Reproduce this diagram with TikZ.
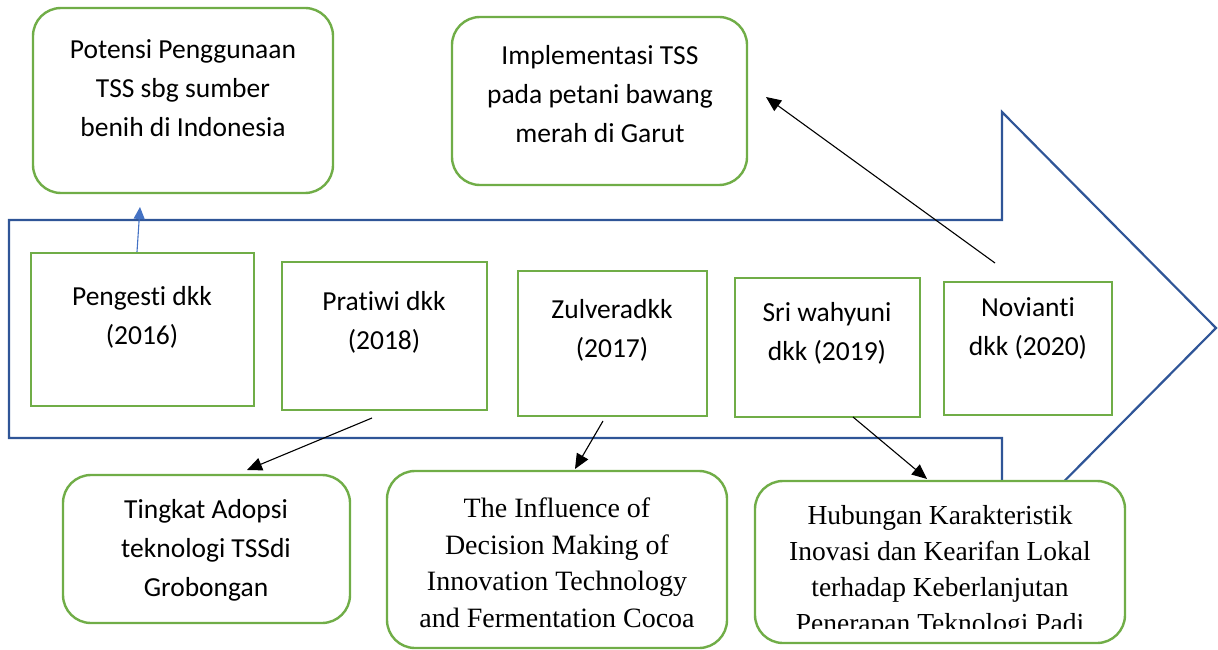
\documentclass[tikz,border=0pt]{standalone}
\usepackage{fontspec}
\setmainfont{Carlito}[Ligatures=NoCommon]
\newfontfamily\tnr{Liberation Serif}
\usetikzlibrary{arrows.meta}
\definecolor{gr}{RGB}{112,173,71}
\definecolor{bl}{RGB}{47,85,151}
\definecolor{lb}{RGB}{68,114,196}
\tikzset{
  gbox/.style={draw=gr, line width=2.4pt, fill=white, inner sep=0pt},
  rbox/.style={gbox, rounded corners=28pt},
  ctext/.style={align=center, font=\fontsize{27.5}{39}\selectfont, inner sep=0pt},
  ttext/.style={align=center, font=\tnr\fontsize{28}{36.5}\selectfont, inner sep=0pt},
  conn/.style={line width=1.1pt, -{Triangle[length=15pt,width=13pt]}},
  bconn/.style={lb, line width=1.1pt, -{Triangle[length=12pt,width=11pt]}},
  bigarrow/.style={draw=bl, line width=2.2pt, line join=miter}
}
\begin{document}
\begin{tikzpicture}[x=1pt,y=-1pt]
\useasboundingbox (0,0) rectangle (1218,650);
% big timeline arrow
\draw[bigarrow] (9,220) -- (1002,220) -- (1002,112) -- (1216,328) -- (1002,544) -- (1002,438) -- (9,438) -- cycle;

% top boxes
\node[rbox, minimum width=300pt, minimum height=185pt] (pot) at (183,100.5) {};
\node[ctext] (potT) at (183,88) {Potensi Penggunaan\\TSS sbg sumber\\benih di Indonesia};
\node[rbox, minimum width=295pt, minimum height=168pt] (imp) at (599.5,101) {};
\node[ctext] (impT) at (600,94) {Implementasi TSS\\pada petani bawang\\merah di Garut};

% inner boxes
\node[gbox, minimum width=223pt, minimum height=153pt] (peng) at (142.5,329.5) {};
\node[ctext] (pengT) at (142,317.5) {Pengesti dkk\\(2016)};
\node[gbox, minimum width=205pt, minimum height=148pt] (pra) at (384.5,336) {};
\node[ctext] (praT) at (384,322.5) {Pratiwi dkk\\(2018)};
\node[gbox, minimum width=189pt, minimum height=145pt] (zul) at (612.5,343.5) {};
\node[ctext] (zulT) at (612,330) {Zulveradkk\\(2017)};
\node[gbox, minimum width=185pt, minimum height=139pt] (sri) at (827.5,347.5) {};
\node[ctext] (sriT) at (827,333.5) {Sri wahyuni\\dkk (2019)};
\node[gbox, minimum width=168pt, minimum height=133pt] (nov) at (1028,348.5) {};
\node[ctext] (novT) at (1028,328.5) {Novianti\\dkk (2020)};

% bottom boxes
\node[rbox, minimum width=287pt, minimum height=148pt] (tin) at (206.5,549) {};
\node[ctext] (tinT) at (206,550) {Tingkat Adopsi\\teknologi TSSdi\\Grobongan};
\node[rbox, minimum width=340pt, minimum height=177pt] (inf) at (557,559.5) {};
\node[ttext] (infT) at (557,563) {The Influence of\\Decision Making of\\Innovation Technology\\and Fermentation Cocoa};
\node[rbox, minimum width=370pt, minimum height=162pt] (hub) at (940,562) {};
\begin{scope}
  \clip (755,481) rectangle (1125,628);
  \node[ttext, font=\tnr\fontsize{27.5}{36}\selectfont] (hubT) at (940,572) {Hubungan Karakteristik\\Inovasi dan Kearifan Lokal\\terhadap Keberlanjutan\\Penerapan Teknologi Padi};
\end{scope}

% connectors
\coordinate (potIn) at (140,207);
\coordinate (praOut) at (372,418);
\coordinate (tinIn) at (247,470);
\coordinate (zulOut) at (603,421);
\coordinate (infIn) at (575,469);
\coordinate (sriOut) at (853,417);
\coordinate (hubIn) at (927,479);
\coordinate (novOut) at (995,263);
\coordinate (impIn) at (766,97);
\draw[bconn] ([xshift=-5.5pt]peng.north) -- (potIn);
\draw[conn] (praOut) -- (tinIn);
\draw[conn] (zulOut) -- (infIn);
\draw[conn] (sriOut) -- (hubIn);
\draw[conn] (novOut) -- (impIn);
\end{tikzpicture}
\end{document}
